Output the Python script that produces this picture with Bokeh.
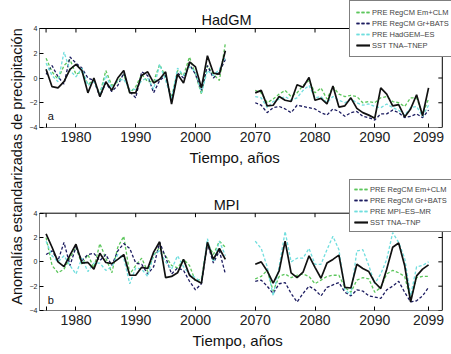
from bokeh.plotting import figure
from bokeh.models import (FixedTicker, Legend, LegendItem, Title, Range1d, BoxAnnotation)
from bokeh.layouts import row, column
from bokeh.embed import file_html
from bokeh.resources import INLINE
from bokeh.core.properties import value

# ---------------- data ----------------
years_hist = list(range(1975, 2006))
years_fut = list(range(2070, 2100))
tick_years = [1975, 1980, 1990, 2000, 2070, 2080, 2090, 2099]
tick_labels = ["", "1980", "1990", "2000", "2070", "2080", "2090", "2099"]
y_ticks = [-4, -2, 0, 2, 4]

had_em_hist = [1.6, 0.5, -0.1, 1.0, 1.5, 0.3, 0.5, -0.5, -0.2, -1.3, 0.6, -0.6, -0.3, 0.3, -1.2, -0.7,
               0.3, -0.3, -0.3, 1.1, 0.1, -1.6, 0.6, 0.2, 1.7, 0.3, -1.3, 1.0, 0.3, -0.2, 2.8]
had_gr_hist = [0.3, 1.0, 0.1, -0.5, 1.7, 1.2, 0.8, 0.0, -0.2, -1.5, -0.4, -1.1, -0.6, 0.4, -1.1, -1.6,
               0.5, 0.2, -1.2, -0.2, 0.2, -1.8, 0.4, 0.0, 1.1, 0.3, -1.0, 1.0, 0.0, 0.5, 1.5]
had_es_hist = [1.2, 0.2, -0.3, 2.1, 0.6, 0.1, 0.8, -0.6, -0.3, -1.3, 0.2, -0.8, -0.2, -0.1, -1.0, -0.9,
               -0.2, 0.0, -0.9, 1.1, -0.2, -1.7, 0.8, 0.2, 0.9, 0.5, -1.2, 0.6, 0.2, 0.7, 1.7]
had_sst_hist = [0.7, -0.7, -0.8, -0.3, 0.7, 1.1, 0.6, -1.2, 0.0, -1.5, -0.3, -1.0, 0.0, 0.6, -1.2, -1.2,
                0.2, 0.5, -0.4, -0.1, 0.5, -2.1, 0.3, -0.4, 1.3, 0.9, -0.8, 1.8, 0.4, 0.3, 2.2]

had_em_fut = [-1.0, -1.2, -2.0, -1.7, -1.3, -1.0, -1.5, -1.2, -0.6, -0.2, -1.2, -0.8, -1.7, -0.7, -1.3,
              -1.5, -1.4, -1.5, -2.0, -1.9, -2.0, -1.6, -1.5, -1.9, -2.0, -2.3, -1.6, -1.6, -2.9, -1.7]
had_gr_fut = [-2.0, -2.2, -2.8, -2.4, -2.3, -2.5, -2.8, -2.2, -2.3, -2.4, -2.5, -2.8, -3.0, -2.5, -2.7,
              -3.1, -2.8, -2.7, -3.1, -3.2, -3.4, -2.9, -2.9, -2.6, -2.8, -3.2, -3.1, -2.9, -3.2, -2.6]
had_es_fut = [-1.5, -1.6, -2.4, -1.9, -1.7, -1.5, -1.8, -1.6, -1.0, -0.6, -1.6, -1.5, -2.0, -1.5, -1.8,
              -2.0, -1.7, -2.0, -2.2, -2.1, -2.3, -2.4, -2.1, -2.4, -2.6, -3.0, -2.4, -2.3, -3.1, -2.2]
had_sst_fut = [-1.2, -1.0, -2.25, -2.2, -1.5, -1.8, -1.9, -0.55, -0.75, 0.05, -1.8, -1.65, -2.1, -0.65,
               -2.35, -2.25, -1.6, -2.45, -2.8, -3.0, -3.25, -0.8, -1.3, -2.25, -2.15, -3.15, -2.5,
               -1.35, -3.05, -0.8]

mpi_em_hist = [2.0, -0.3, -0.9, -0.6, 0.3, 1.2, -0.2, 0.6, -0.5, 1.5, 0.3, -0.9, 1.2, 2.1, -1.0, -0.3,
               0.3, -0.8, 0.5, 1.2, 0.5, -0.3, -0.5, 0.2, -0.3, -1.6, -1.4, 1.6, 0.6, 1.7, 1.2]
mpi_gr_hist = [0.6, 0.9, 0.1, 1.6, -0.3, 1.2, 0.1, 0.6, 0.7, 0.1, 0.6, -0.3, 0.9, 1.5, 1.1, -0.1,
               -0.2, -1.0, -0.4, 1.6, 0.4, -1.0, -0.5, -0.7, -1.6, -2.3, -1.8, 1.5, -0.1, 0.9, -1.0]
mpi_es_hist = [1.7, 0.5, 0.0, 0.5, -0.3, -1.0, 0.3, -0.8, -0.1, -0.1, -0.7, -0.4, 0.6, 0.3, -1.8, -0.5,
               -0.6, -1.2, 0.6, 0.9, 0.0, -0.6, 0.5, -0.4, -1.0, -1.3, -1.7, 1.9, 0.0, 1.7, 0.5]
mpi_sst_hist = [2.3, 1.2, 0.0, -0.4, 0.55, 1.45, -0.1, -0.05, -0.6, 0.7, -0.05, -0.15, 0.2, 0.6, -1.1,
                -1.1, -0.45, -0.55, 0.8, 1.65, -1.3, -1.2, -0.9, 0.2, -1.1, -1.5, -1.75, 1.6, 0.2, 1.1, 0.2]

mpi_em_fut = [-1.4, -1.2, -0.7, -2.4, -1.2, -1.0, -1.3, -1.1, -1.0, -1.2, -1.8, -1.5, -1.2, -1.1, -1.1,
              -2.1, -2.5, -1.5, -1.3, -1.4, -2.5, -2.1, -1.0, -0.7, -0.9, -1.2, -3.1, -1.3, -1.2, -1.2]
mpi_gr_fut = [-1.6, -1.5, -2.0, -2.6, -1.8, -1.7, -2.6, -3.3, -2.6, -2.0, -2.3, -2.8, -2.1, -1.9, -1.7,
              -2.5, -2.8, -2.3, -2.4, -2.8, -2.9, -3.0, -2.3, -2.0, -1.6, -2.5, -3.3, -3.2, -2.8, -2.1]
mpi_es_fut = [1.7, 1.1, -0.4, -2.8, -0.4, 2.5, 0.0, 0.3, 0.3, 1.1, -0.2, -0.2, 1.0, 2.1, 1.0, -2.3,
              -2.7, 0.9, 1.0, -0.3, -1.8, -1.0, 0.2, 2.4, 1.6, 0.3, -2.8, -0.4, -0.3, 0.0]
mpi_sst_fut = [-0.2, 0.0, -0.75, -1.75, -0.75, 1.7, -0.9, -1.3, -0.85, 0.5, -0.45, -1.35, -0.1, 0.2,
               0.55, -2.1, -2.15, -0.2, -0.55, -0.8, -1.7, -2.2, -0.6, 1.2, 1.55, -0.3, -3.3, -1.15,
               -0.6, -0.25]

had_labels = ["PRE RegCM Em+CLM", "PRE RegCM Gr+BATS", "PRE HadGEM\u2013ES", "SST TNA\u2013TNEP"]
mpi_labels = ["PRE RegCM Em+CLM", "PRE RegCM Gr+BATS", "PRE MPI\u2013ES\u2013MR", "SST TNA\u2013TNP"]
y_title = "Anomal\u00edas estandarizadas de precipitaci\u00f3n"


# broken time axis: 1975-2005, a 5-year gap, then 2070-2099
def brk(year):
    return year - 1975 if year < 2050 else year - 2070 + 35


FONT = "Liberation Sans"
styles = [dict(color="#5cc65c", dash="3 2", width=1.3),
          dict(color="#1c1c60", dash="3 2", width=1.3),
          dict(color="#70dede", dash="3 2", width=1.3),
          dict(color="#111111", dash="solid", width=1.7)]

X0, X1 = -1.1, 66.3          # extent of the axes box (data units)
PANEL_W = 426
BORDER_L = 9
FRAME_W = PANEL_W - BORDER_L  # frame reaches the right edge (legend overhangs the box)
BOX_W_PX = 406.7


def panel(title, labels, hist, fut, letter, height, box_top_px, box_h_px, bbot,
          xlab_off, leg_y, leg_pad):
    ppu_y = box_h_px / 8.0
    ppu_x = BOX_W_PX / (X1 - X0)
    y_top = 4 + box_top_px / ppu_y
    x_right = X0 + FRAME_W / ppu_x
    p = figure(width=PANEL_W, height=height, x_range=Range1d(X0, x_right),
               y_range=Range1d(-4, y_top), title=None,
               output_backend="svg", toolbar_location=None,
               min_border_left=BORDER_L, min_border_right=0, min_border_top=0,
               min_border_bottom=bbot)
    p.grid.visible = False
    p.outline_line_color = None
    p.background_fill_color = "white"
    xt = [brk(y) for y in tick_years]
    p.xaxis.ticker = FixedTicker(ticks=xt)
    p.xaxis.major_label_overrides = {t: l for t, l in zip(xt, tick_labels)}
    p.yaxis.ticker = FixedTicker(ticks=y_ticks)
    for ax in (p.xaxis[0], p.yaxis[0]):
        ax.major_tick_in = 4
        ax.major_tick_out = 0
        ax.minor_tick_line_color = None
        ax.axis_line_color = None
        ax.major_tick_line_color = "black"
        ax.major_label_text_font = FONT
        ax.major_label_text_color = "#222222"
    p.xaxis.major_label_text_font_size = "14px"
    p.xaxis.major_label_standoff = 4
    p.yaxis.major_label_text_font_size = "7px"
    p.yaxis.major_label_standoff = 2

    # axes box (MATLAB style, box on) with inward ticks on top and right
    p.add_layout(BoxAnnotation(left=X0, right=X1, bottom=-4, top=4, fill_alpha=0,
                               line_color="black", line_width=1, line_alpha=1))
    p.segment(x0=xt, y0=[4] * len(xt), x1=xt, y1=[4 - 4 / ppu_y] * len(xt),
              line_color="black", line_width=1)
    p.segment(x0=[X1] * len(y_ticks), y0=y_ticks, x1=[X1 - 4 / ppu_x] * len(y_ticks), y1=y_ticks,
              line_color="black", line_width=1)

    items = []
    xh = [brk(y) for y in years_hist]
    xf = [brk(y) for y in years_fut]
    for lab, st, h, f in zip(labels, styles, hist, fut):
        r1 = p.line(xh, h, line_color=st["color"], line_dash=st["dash"], line_width=st["width"])
        r2 = p.line(xf, f, line_color=st["color"], line_dash=st["dash"], line_width=st["width"])
        items.append(LegendItem(label=lab, renderers=[r1, r2]))

    p.text(x=[0.3], y=[-3.1], text=[letter], text_font=value(FONT), text_font_size="11px",
           text_baseline="middle", text_align="left", text_color="#111111")
    # panel title, centred over the figure, 8 px above the axes box
    p.text(x=[30.2], y=[4 + 8.3 / ppu_y], text=[title], text_font=value(FONT),
           text_font_size="14.5px", text_baseline="alphabetic", text_align="center",
           text_color="#111111")

    leg = Legend(items=items, location=(310, leg_y), padding=leg_pad, spacing=1,
                 label_height=10, glyph_height=10, glyph_width=14, label_standoff=2, margin=0,
                 label_text_font=FONT, label_text_font_size="7.5px", border_line_color="black",
                 border_line_width=1, background_fill_color="white", background_fill_alpha=1)
    p.add_layout(leg, "center")

    p.add_layout(Title(text="Tiempo, a\u00f1os", align="left", offset=xlab_off, text_font=FONT,
                       text_font_size="15px", text_font_style="normal", text_color="#111111",
                       standoff=4),
                 "below")
    return p


p1 = panel("HadGM", had_labels,
           [had_em_hist, had_gr_hist, had_es_hist, had_sst_hist],
           [had_em_fut, had_gr_fut, had_es_fut, had_sst_fut],
           "a", 177, 28, 99, 50, 150, 70, 6)
p2 = panel("MPI", mpi_labels,
           [mpi_em_hist, mpi_gr_hist, mpi_es_hist, mpi_sst_hist],
           [mpi_em_fut, mpi_gr_fut, mpi_es_fut, mpi_sst_fut],
           "b", 177, 35.7, 97.3, 44, 153, 78, 4)

# shared y title: the axis label of a narrow strip spanning both panels
lab = figure(width=26, height=354, x_range=Range1d(0, 1), y_range=Range1d(0, 1),
             output_backend="svg", toolbar_location=None, title=None,
             min_border_left=24, min_border_right=0, min_border_top=0, min_border_bottom=22,
             x_axis_location=None, y_axis_location="left")
lab.grid.visible = False
lab.outline_line_color = None
lab.yaxis.ticker = FixedTicker(ticks=[])
lab.yaxis.axis_line_color = None
lab.yaxis.major_tick_line_color = None
lab.yaxis.minor_tick_line_color = None
lab.yaxis.major_tick_out = 0
lab.yaxis.major_tick_in = 0
lab.yaxis.major_label_standoff = 0
lab.yaxis.axis_label = y_title
lab.yaxis.axis_label_standoff = 0
lab.yaxis.axis_label_text_font = FONT
lab.yaxis.axis_label_text_font_size = "14.5px"
lab.yaxis.axis_label_text_font_style = "normal"
lab.yaxis.axis_label_text_color = "#111111"

layout = row(lab, column(p1, p2))
open("out.html", "w").write(file_html(layout, INLINE))
